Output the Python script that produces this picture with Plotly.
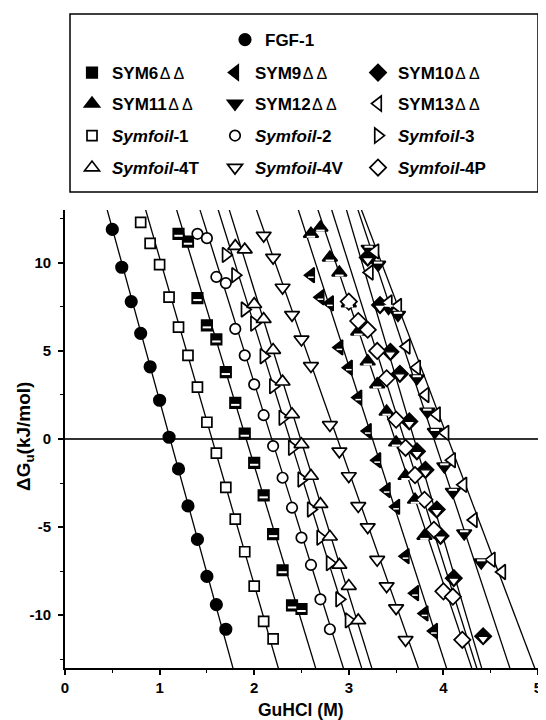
import plotly.graph_objects as go

# ---------------- data (GuHCl molarity vs. unfolding free energy) ----------------
names = ["FGF-1", "SYM6ΔΔ", "SYM9ΔΔ", "SYM10ΔΔ", "SYM11ΔΔ", "SYM12ΔΔ", "SYM13ΔΔ",
         "Symfoil-1", "Symfoil-2", "Symfoil-3", "Symfoil-4T", "Symfoil-4V", "Symfoil-4P"]

fgf1_x = [0.5, 0.6, 0.7, 0.8, 0.9, 1.0, 1.1, 1.2, 1.3, 1.4, 1.5, 1.6, 1.7]
fgf1_y = [11.9, 9.75, 7.8, 6.0, 4.1, 2.2, 0.1, -1.7, -3.8, -5.7, -7.8, -9.4, -10.8]

sym6_x = [1.2, 1.3, 1.4, 1.5, 1.6, 1.7, 1.8, 1.9, 2.0, 2.1, 2.2, 2.3, 2.4, 2.5]
sym6_y = [11.65, 11.2, 8.0, 6.45, 5.65, 3.8, 2.05, 0.3, -1.35, -3.2, -5.4, -7.45, -9.45, -9.65]

sym9_x = [2.6, 2.7, 2.8, 2.9, 3.0, 3.1, 3.2, 3.3, 3.4, 3.5, 3.6, 3.7, 3.8, 3.9]
sym9_y = [9.3, 8.05, 7.7, 5.2, 4.05, 2.35, 0.45, -1.2, -2.9, -3.85, -6.65, -8.75, -9.9, -10.9]

sym10_x = [3.2, 3.33, 3.44, 3.54, 3.64, 3.72, 3.81, 3.93, 3.97, 4.11, 4.42]
sym10_y = [10.3, 7.6, 4.95, 3.7, 1.0, -0.7, -1.75, -4.0, -5.5, -7.9, -11.2]

sym11_x = [2.6, 2.7, 2.8, 2.9, 3.0, 3.1, 3.2, 3.3, 3.4, 3.5, 3.6, 3.7, 3.8]
sym11_y = [11.65, 12.0, 10.3, 9.45, 7.7, 6.1, 4.4, 3.1, 1.55, -0.2, -2.1, -3.45, -5.5]

sym12_x = [3.21, 3.31, 3.42, 3.52, 3.72, 3.83, 3.91, 4.01, 4.1, 4.22, 4.4]
sym12_y = [10.8, 9.9, 7.45, 7.05, 3.45, 1.55, 0.4, -1.55, -3.0, -5.35, -7.0]

sym13_x = [3.22, 3.28, 3.42, 3.52, 3.61, 3.72, 3.81, 3.93, 4.02, 4.09, 4.21, 4.32, 4.51, 4.62]
sym13_y = [9.45, 10.65, 7.75, 7.55, 5.25, 4.05, 2.5, 1.4, 0.35, -1.2, -2.6, -4.6, -6.85, -7.55]

symfoil1_x = [0.8, 0.9, 1.0, 1.1, 1.2, 1.3, 1.4, 1.5, 1.6, 1.7, 1.8, 1.9, 2.0, 2.1, 2.2]
symfoil1_y = [12.3, 11.1, 9.9, 8.05, 6.35, 4.75, 2.95, 0.95, -0.8, -2.75, -4.55, -6.4, -8.35, -10.35, -11.35]

symfoil2_x = [1.4, 1.5, 1.6, 1.7, 1.8, 1.9, 2.0, 2.1, 2.2, 2.3, 2.4, 2.5, 2.6, 2.7, 2.8]
symfoil2_y = [11.65, 11.4, 9.2, 8.85, 6.25, 4.75, 3.1, 1.35, -0.4, -2.2, -3.9, -5.6, -7.15, -9.1, -10.8]

symfoil3_x = [1.7, 1.8, 1.9, 2.0, 2.1, 2.2, 2.3, 2.4, 2.5, 2.6, 2.7, 2.8, 2.9, 3.0]
symfoil3_y = [10.45, 9.3, 7.35, 6.55, 4.7, 3.0, 1.2, -0.5, -2.3, -4.0, -5.6, -7.05, -9.1, -10.3]

symfoil4t_x = [1.8, 1.9, 2.0, 2.1, 2.2, 2.3, 2.4, 2.5, 2.6, 2.7, 2.8, 2.9, 3.0, 3.1]
symfoil4t_y = [10.95, 10.75, 7.65, 6.8, 5.05, 3.25, 1.4, -0.3, -2.1, -3.7, -5.55, -7.15, -8.35, -10.3]

symfoil4v_x = [2.1, 2.2, 2.3, 2.4, 2.5, 2.6, 2.8, 2.9, 3.0, 3.1, 3.2, 3.3, 3.4, 3.5, 3.6]
symfoil4v_y = [11.55, 10.3, 8.6, 7.05, 5.65, 4.15, 0.8, -0.7, -2.1, -3.8, -5.0, -6.85, -8.35, -9.6, -11.4]

symfoil4p_x = [3.0, 3.1, 3.2, 3.3, 3.4, 3.5, 3.6, 3.7, 3.8, 3.9, 4.0, 4.1, 4.2]
symfoil4p_y = [7.8, 6.7, 6.2, 5.0, 3.45, 1.1, -0.5, -2.05, -3.45, -5.15, -8.65, -8.95, -11.4]

# linear-fit parameters of each series: midpoint Cm (M) and m-value (kJ/mol/M)
cm_values = [1.111, 1.915, 3.25, 3.69, 3.487, 3.90, 4.05, 1.554, 2.185, 2.378, 2.49, 2.88, 3.586]
m_values = [19.56, 17.7, 16.6, 18.2, 16.0, 16.2, 14.2, 18.55, 17.16, 17.15, 17.27, 15.2, 16.96]

x_data = [fgf1_x, sym6_x, sym9_x, sym10_x, sym11_x, sym12_x, sym13_x,
          symfoil1_x, symfoil2_x, symfoil3_x, symfoil4t_x, symfoil4v_x, symfoil4p_x]
y_data = [fgf1_y, sym6_y, sym9_y, sym10_y, sym11_y, sym12_y, sym13_y,
          symfoil1_y, symfoil2_y, symfoil3_y, symfoil4t_y, symfoil4v_y, symfoil4p_y]

y_tickvals = [-10, -5, 0, 5, 10]
y_ticktext = ["-10", "-5", "0", "5", "10"]
x_title = "GuHCl (M)"
y_title = "ΔG<sub>u</sub>(kJ/mol)"

# ---------------- layout geometry ----------------
# the page body has an 8px default margin, so the figure is drawn 8px in from the window edge
BODY = 8
FIG_W, FIG_H = 546 - BODY, 720 - BODY
M_L, M_R, M_T, M_B = 65 - BODY, 8, 210 - BODY, 52
PLOT_W = FIG_W - M_L - M_R
PLOT_H = FIG_H - M_T - M_B
PX_PER_UNIT = PLOT_H / 26.0

def px(p):  # window pixel x -> paper x
    return (p - BODY - M_L) / PLOT_W

def py(p):  # window pixel y -> paper y
    return 1 - (p - BODY - M_T) / PLOT_H

FONT = "Liberation Sans, Arial, Helvetica, sans-serif"

def label(n):
    if n.startswith("Symfoil"):
        return "<i>Symfoil</i>" + n[len("Symfoil"):]
    return n.replace("ΔΔ", "<span style='font-size:16px;font-weight:normal'>\u200aΔ\u2009Δ</span>")

# symbol, size, fill
styles = {
    "FGF-1": ("circle", 11.5, "black"),
    "SYM6ΔΔ": ("square", 10.5, "black"),
    "SYM9ΔΔ": ("triangle-left", 13, "black"),
    "SYM10ΔΔ": ("diamond", 12.5, "black"),
    "SYM11ΔΔ": ("triangle-up", 13, "black"),
    "SYM12ΔΔ": ("triangle-down", 13, "black"),
    "SYM13ΔΔ": ("triangle-left", 13, "white"),
    "Symfoil-1": ("square", 10, "white"),
    "Symfoil-2": ("circle", 10.5, "white"),
    "Symfoil-3": ("triangle-right", 13, "white"),
    "Symfoil-4T": ("triangle-up", 13, "white"),
    "Symfoil-4V": ("triangle-down", 13, "white"),
    "Symfoil-4P": ("diamond", 12.5, "white"),
}
# overlays that give the "half-filled" look: symbol, size, fill, line width, shift (px, + = down)
overlays = {
    "SYM6ΔΔ": ("line-ew", 6, "white", 2, 2),
    "SYM9ΔΔ": ("line-ew", 4, "white", 1.5, 2),
    "SYM10ΔΔ": ("triangle-down", 10, "white", 1.2, 2.5),
    "SYM11ΔΔ": ("line-ew", 6, "white", 2, 3),
    "SYM12ΔΔ": ("line-ew", 6, "white", 2, -2),
}
shift_axes = {}

legend_of = ["legend"] + ["legend2"] * 3 + ["legend3"] * 3 + ["legend4"] * 3 + ["legend5"] * 3

fig = go.Figure()

# fit lines first (under markers)
for i, n in enumerate(names):
    cm, m = cm_values[i], m_values[i]
    xs = [cm - 14.0 / m, cm + 14.0 / m]
    ys = [m * (cm - x) for x in xs]
    fig.add_trace(go.Scatter(x=xs, y=ys, mode="lines", line=dict(color="black", width=1.3),
                             showlegend=False, hoverinfo="skip"))

for i, n in enumerate(names):
    sym, size, fill = styles[n]
    fig.add_trace(go.Scatter(
        x=x_data[i], y=y_data[i], mode="markers", name=label(n), legend=legend_of[i],
        marker=dict(symbol=sym, size=size, color=fill, line=dict(color="black", width=1.7)),
    ))
    if n in overlays:
        osym, osize, ofill, olw, shift = overlays[n]
        if shift not in shift_axes:
            shift_axes[shift] = "y%d" % (len(shift_axes) + 2)
        ax = shift_axes[shift]
        lc = "white" if osym == "line-ew" else "black"
        fig.add_trace(go.Scatter(
            x=x_data[i], y=y_data[i], mode="markers", yaxis=ax, showlegend=False, hoverinfo="skip",
            marker=dict(symbol=osym, size=osize, color=ofill, line=dict(color=lc, width=olw)),
        ))

for shift, ax in shift_axes.items():
    d = shift / PX_PER_UNIT
    fig.layout["yaxis" + ax[1:]] = dict(overlaying="y", range=[-13 + d, 13 + d], visible=False,
                                        fixedrange=True)

# legends: one row for FGF-1, then four rows of three entries
leg_common = dict(orientation="h", bgcolor="rgba(0,0,0,0)", borderwidth=0,
                  font=dict(family=FONT, size=17, color="black", weight="bold"),
                  entrywidth=98, entrywidthmode="pixels", itemwidth=30,
                  xanchor="left", yanchor="middle", tracegroupgap=0)
col_x = px(72)
fig.update_layout(
    legend=dict(leg_common, x=px(225), y=py(40)),
    legend2=dict(leg_common, x=col_x, y=py(73)),
    legend3=dict(leg_common, x=col_x, y=py(104)),
    legend4=dict(leg_common, x=col_x, y=py(136)),
    legend5=dict(leg_common, x=col_x, y=py(168)),
)

fig.add_shape(type="rect", xref="paper", yref="paper", x0=px(70), x1=px(538), y0=py(192), y1=py(14),
              line=dict(color="black", width=1.5), fillcolor="rgba(0,0,0,0)")

# axis titles
fig.add_annotation(text=y_title, xref="paper", yref="paper", x=px(25), y=py(437),
                   textangle=-90, showarrow=False, xanchor="center", yanchor="middle",
                   font=dict(family=FONT, size=19, color="black", weight="bold"))
fig.add_annotation(text=x_title, xref="paper", yref="paper", x=px(301), y=py(710),
                   showarrow=False, xanchor="center", yanchor="middle",
                   font=dict(family=FONT, size=17.5, color="black", weight="bold"))

tickfont = dict(family=FONT, size=15, color="black", weight="bold")
fig.update_layout(
    width=FIG_W, height=FIG_H, autosize=False,
    margin=dict(l=M_L, r=M_R, t=M_T, b=M_B, pad=0),
    paper_bgcolor="white", plot_bgcolor="white",
    font=dict(family=FONT, color="black"),
    xaxis=dict(range=[0, 5], tickmode="linear", tick0=0, dtick=1, showgrid=False, zeroline=False,
               showline=True, linecolor="black", linewidth=1.6, ticks="outside", ticklen=5,
               tickwidth=1.5, tickcolor="black", tickfont=tickfont, automargin=False,
               minor=dict(tickmode="linear", tick0=0, dtick=0.5, ticks="outside", ticklen=3,
                          tickwidth=1.2, tickcolor="black", showgrid=False),
               fixedrange=True),
    yaxis=dict(range=[-13, 13], tickmode="array", tickvals=y_tickvals, ticktext=y_ticktext,
               showgrid=False, zeroline=True, zerolinecolor="#333333", zerolinewidth=2,
               showline=True, linecolor="black", linewidth=1.6, ticks="outside", ticklen=5,
               tickwidth=1.5, tickcolor="black", tickfont=tickfont, automargin=False,
               ticklabelstandoff=4,
               minor=dict(tickmode="linear", tick0=0, dtick=2.5, ticks="outside", ticklen=3,
                          tickwidth=1.2, tickcolor="black", showgrid=False),
               fixedrange=True),
)

fig.write_html("out.html")
